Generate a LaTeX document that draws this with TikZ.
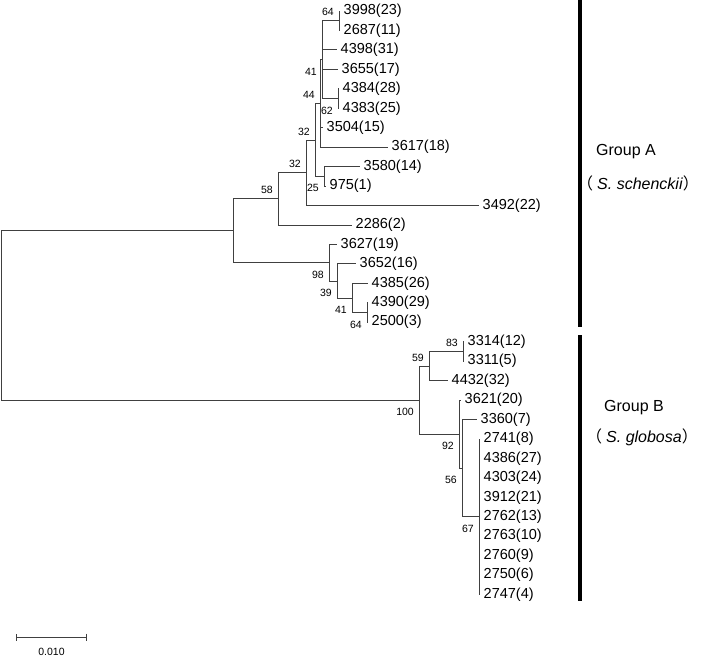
\documentclass[tikz,border=0pt]{standalone}
\usepackage{fontspec}
\setmainfont{Liberation Sans}
\newfontfamily\cjk{Noto Sans CJK JP}
\usetikzlibrary{arrows.meta}

\begin{document}
\begin{tikzpicture}[x=1pt, y=-1pt,
  br/.style={black!75, line width=0.8pt},
  tx/.style={anchor=west, inner sep=0pt, xshift=3.5pt, font=\fontsize{14.5}{16}\selectfont},
  bs/.style={inner sep=0pt, font=\fontsize{10.5}{12}\selectfont},
  bsup/.style={bs, anchor=east, xshift=-5pt, yshift=8.5pt},
  bsdn/.style={bs, anchor=east, xshift=-5pt, yshift=-12pt},
  grp/.style={anchor=west, inner sep=0pt, font=\fontsize{16}{18}\selectfont}]
  \useasboundingbox (0,0) rectangle (709,658);
  \def\dy{19.45}
  % tips, top to bottom
  \foreach \lab/\xe [count=\i from 0] in {3998(23)/340, 2687(11)/340, 4398(31)/337, 3655(17)/338,
      4384(28)/339, 4383(25)/339, 3504(15)/323, 3617(18)/388, 3580(14)/360, 975(1)/326,
      3492(22)/479, 2286(2)/352, 3627(19)/337, 3652(16)/356, 4385(26)/368, 4390(29)/368,
      2500(3)/368, 3314(12)/464, 3311(5)/464, 4432(32)/448, 3621(20)/461, 3360(7)/477,
      2741(8)/480, 4386(27)/480, 4303(24)/480, 3912(21)/480, 2762(13)/480, 2763(10)/480,
      2760(9)/480, 2750(6)/480, 2747(4)/480} {
    \coordinate (t\i) at (\xe, {11+\i*\dy});
    \node[tx] (l\i) at (t\i) {\lab};
  }
  % inner nodes
  \coordinate (root) at (1, 315.4);
  \coordinate (nA) at (233, 230.7);
  \coordinate (n58) at (278, 198.8);
  \coordinate (n32b) at (306, 172.7);
  \coordinate (n32a) at (315, 139.9);
  \coordinate (n44) at (320, 103.4);
  \coordinate (n41a) at (322, 59.6);
  \coordinate (n64a) at (339, 20.7);
  \coordinate (n62) at (338, 98.5);
  \coordinate (n25) at (324, 176.3);
  \coordinate (n98) at (329, 262.6);
  \coordinate (n39) at (337, 280.9);
  \coordinate (n41b) at (352, 297.9);
  \coordinate (n64b) at (367, 312.5);
  \coordinate (nB) at (419, 400);
  \coordinate (n59) at (429, 366);
  \coordinate (n83) at (463, 351.4);
  \coordinate (n92) at (459, 434);
  \coordinate (n56) at (462, 468.1);
  \coordinate (n67) at (479, 516.7);
  % branches
  \foreach \p/\c in {root/nA, root/nB, nA/n58, nA/n98, n58/n32b, n58/t11, n32b/n32a, n32b/t10,
      n32a/n44, n32a/n25, n44/n41a, n44/t6, n44/t7, n41a/n64a, n41a/t2, n41a/t3, n41a/n62,
      n64a/t0, n64a/t1, n62/t4, n62/t5, n25/t8, n25/t9, n98/t12, n98/n39, n39/t13, n39/n41b,
      n41b/t14, n41b/n64b, n64b/t15, n64b/t16, nB/n59, nB/n92, n59/n83, n59/t19, n83/t17,
      n83/t18, n92/t20, n92/n56, n56/t21, n56/n67}
    \draw[br] (\p) |- (\c);
  \foreach \k in {22,...,30} \draw[br] (n67) |- (t\k);
  % bootstrap values
  \foreach \n/\v/\s in {n64a/64/bsup, n41a/41/bsdn, n44/44/bsup, n62/62/bsdn, n32a/32/bsup,
      n32b/32/bsup, n25/25/bsdn, n58/58/bsup, n98/98/bsdn, n39/39/bsdn, n41b/41/bsdn,
      n64b/64/bsdn, n83/83/bsup, n59/59/bsup, nB/100/bsdn, n92/92/bsdn, n56/56/bsdn, n67/67/bsdn}
    \node[\s] (b\n) at (\n) {\v};
  % scale bar
  \coordinate (sb1) at (16,637);
  \coordinate (sb2) at (87,637);
  \draw[br, {Bar[width=7pt]}-{Bar[width=7pt]}] (sb1) -- (sb2);
  \node[bs] (sbl) at (51.5,652) {0.010};
  % groups
  \fill (578,0) rectangle (582,327);
  \fill (578,335) rectangle (582,601);
  \node[grp] (gA) at (596,152) {Group A};
  \node[grp] (sA) at (577,183) {{\cjk （}\hspace{4pt}\textit{S. schenckii}{\cjk ）}};
  \node[grp] (gB) at (604,408) {Group B};
  \node[grp] (sB) at (586,437) {{\cjk （}\hspace{4pt}\textit{S. globosa}{\cjk ）}};
\end{tikzpicture}
\end{document}
